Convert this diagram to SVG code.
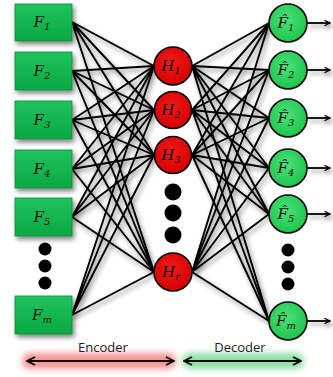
<svg xmlns="http://www.w3.org/2000/svg" width="333" height="377" viewBox="0 0 333 377">
<defs>
<filter id="sh" x="-20%" y="-20%" width="140%" height="140%">
<feGaussianBlur in="SourceAlpha" stdDeviation="2.5"/>
<feOffset dx="2" dy="3" result="b"/>
<feComponentTransfer><feFuncA type="linear" slope="0.5"/></feComponentTransfer>
<feMerge><feMergeNode/><feMergeNode in="SourceGraphic"/></feMerge>
</filter>
<filter id="glow" x="-20%" y="-100%" width="140%" height="300%">
<feGaussianBlur stdDeviation="3"/>
</filter>
<linearGradient id="gr" x1="0" y1="0" x2="0" y2="1">
<stop offset="0" stop-color="#1fc35f"/><stop offset="1" stop-color="#0aa841"/>
</linearGradient>
<radialGradient id="gc" cx="0.45" cy="0.4" r="0.6">
<stop offset="0" stop-color="#4fe07a"/><stop offset="1" stop-color="#1cc64c"/>
</radialGradient>
<radialGradient id="rc" cx="0.45" cy="0.4" r="0.6">
<stop offset="0" stop-color="#f21a1a"/><stop offset="1" stop-color="#d40000"/>
</radialGradient>
<marker id="ah" viewBox="0 0 10 10" refX="9" refY="5" markerWidth="7" markerHeight="7" orient="auto-start-reverse" markerUnits="userSpaceOnUse">
<path d="M1,1 L9,5 L1,9" fill="none" stroke="#000" stroke-width="1.6"/>
</marker>
<marker id="ah2" viewBox="0 0 10 10" refX="9" refY="5" markerWidth="10" markerHeight="10" orient="auto-start-reverse" markerUnits="userSpaceOnUse">
<path d="M1,1 L9,5 L1,9" fill="none" stroke="#000" stroke-width="1.8"/>
</marker>
</defs>
<style>
.c{stroke:#000;stroke-width:1.9;fill:none}
.rect{fill:url(#gr);stroke:#0c8a37;stroke-width:0.8}
.hid{fill:url(#rc);stroke:#000;stroke-width:1.6}
.out{fill:url(#gc);stroke:#000;stroke-width:1.6}
.lb{font-family:"DejaVu Serif","Liberation Serif",serif;font-style:italic;font-size:15px;fill:#111;text-anchor:middle}
.sb{font-size:10px}
.cap{font-family:"Open Sans","Liberation Sans",sans-serif;font-size:13px;fill:#222;text-anchor:middle}
.dot{fill:#000}
.oa{stroke:#000;stroke-width:1.8;fill:none}
</style>
<g id="connectors" filter="url(#sh)">
<g class="c">
<path d="M72,22L154,66M72,22L154,110M72,22L154,155M72,22L154,272"/>
<path d="M72,71L154,66M72,71L154,110M72,71L154,155M72,71L154,272"/>
<path d="M72,120L154,66M72,120L154,110M72,120L154,155M72,120L154,272"/>
<path d="M72,169L154,66M72,169L154,110M72,169L154,155M72,169L154,272"/>
<path d="M72,217L154,66M72,217L154,110M72,217L154,155M72,217L154,272"/>
<path d="M72,315L154,66M72,315L154,110M72,315L154,155M72,315L154,272"/>
<path d="M192,66L269,23M192,66L269,70M192,66L269,118M192,66L269,168M192,66L269,214M192,66L269,321"/>
<path d="M192,110L269,23M192,110L269,70M192,110L269,118M192,110L269,168M192,110L269,214M192,110L269,321"/>
<path d="M192,155L269,23M192,155L269,70M192,155L269,118M192,155L269,168M192,155L269,214M192,155L269,321"/>
<path d="M192,272L269,23M192,272L269,70M192,272L269,118M192,272L269,168M192,272L269,214M192,272L269,321"/>
</g>
<g class="oa">
<path d="M307,23H330" marker-end="url(#ah)"/>
<path d="M307,70H330" marker-end="url(#ah)"/>
<path d="M307,118H330" marker-end="url(#ah)"/>
<path d="M307,168H330" marker-end="url(#ah)"/>
<path d="M307,214H330" marker-end="url(#ah)"/>
<path d="M307,321H330" marker-end="url(#ah)"/>
</g>
</g>
<g id="F1"><rect class="rect" x="15" y="4" width="57" height="37" filter="url(#sh)"/><text class="lb" x="42" y="27">F<tspan class="sb" dy="3">1</tspan></text></g>
<g id="F2"><rect class="rect" x="15" y="52" width="57" height="38" filter="url(#sh)"/><text class="lb" x="42" y="76">F<tspan class="sb" dy="3">2</tspan></text></g>
<g id="F3"><rect class="rect" x="15" y="101" width="57" height="38" filter="url(#sh)"/><text class="lb" x="42" y="125">F<tspan class="sb" dy="3">3</tspan></text></g>
<g id="F4"><rect class="rect" x="15" y="150" width="57" height="38" filter="url(#sh)"/><text class="lb" x="42" y="174">F<tspan class="sb" dy="3">4</tspan></text></g>
<g id="F5"><rect class="rect" x="15" y="198" width="57" height="38" filter="url(#sh)"/><text class="lb" x="42" y="222">F<tspan class="sb" dy="3">5</tspan></text></g>
<g id="Fdots"><circle class="dot" cx="45" cy="249" r="6.5"/><circle class="dot" cx="45" cy="266" r="6.5"/><circle class="dot" cx="45" cy="283" r="6.5"/></g>
<g id="Fm"><rect class="rect" x="15" y="296" width="57" height="38" filter="url(#sh)"/><text class="lb" x="42" y="320">F<tspan class="sb" dy="3">m</tspan></text></g>
<g id="H1"><circle class="hid" cx="173" cy="66" r="19"/><text class="lb" x="171" y="71">H<tspan class="sb" dy="3">1</tspan></text></g>
<g id="H2"><circle class="hid" cx="173" cy="110" r="18.5"/><text class="lb" x="171" y="115">H<tspan class="sb" dy="3">2</tspan></text></g>
<g id="H3"><circle class="hid" cx="173" cy="155" r="18.5"/><text class="lb" x="171" y="160">H<tspan class="sb" dy="3">3</tspan></text></g>
<g id="Hdots"><circle class="dot" cx="173" cy="192" r="8.5"/><circle class="dot" cx="173" cy="213" r="8.5"/><circle class="dot" cx="173" cy="235" r="8.5"/></g>
<g id="Hr"><circle class="hid" cx="173" cy="272" r="19"/><text class="lb" x="171" y="277">H<tspan class="sb" dy="3">r</tspan></text></g>
<g id="O1"><circle class="out" cx="288" cy="23" r="19"/><text class="lb" x="286" y="28">F̂<tspan class="sb" dy="3">1</tspan></text></g>
<g id="O2"><circle class="out" cx="288" cy="70" r="19"/><text class="lb" x="286" y="75">F̂<tspan class="sb" dy="3">2</tspan></text></g>
<g id="O3"><circle class="out" cx="288" cy="118" r="19"/><text class="lb" x="286" y="123">F̂<tspan class="sb" dy="3">3</tspan></text></g>
<g id="O4"><circle class="out" cx="288" cy="168" r="19"/><text class="lb" x="286" y="173">F̂<tspan class="sb" dy="3">4</tspan></text></g>
<g id="O5"><circle class="out" cx="288" cy="214" r="19"/><text class="lb" x="286" y="219">F̂<tspan class="sb" dy="3">5</tspan></text></g>
<g id="Odots"><circle class="dot" cx="288" cy="250" r="6.5"/><circle class="dot" cx="288" cy="267" r="6.5"/><circle class="dot" cx="288" cy="284" r="6.5"/></g>
<g id="Om"><circle class="out" cx="288" cy="321" r="19"/><text class="lb" x="286" y="326">F̂<tspan class="sb" dy="3">m</tspan></text></g>
<g id="encoder">
<rect x="22" y="353" width="154" height="16" rx="8" fill="#f47a7a" opacity="0.8" filter="url(#glow)"/>
<path d="M27,361H174" stroke="#000" stroke-width="2" marker-start="url(#ah2)" marker-end="url(#ah2)"/>
<text class="cap" x="103" y="352">Encoder</text>
</g>
<g id="decoder">
<rect x="182" y="353" width="122" height="16" rx="8" fill="#6fd890" opacity="0.8" filter="url(#glow)"/>
<path d="M184,361H301" stroke="#000" stroke-width="2" marker-start="url(#ah2)" marker-end="url(#ah2)"/>
<text class="cap" x="240" y="352">Decoder</text>
</g>
</svg>
